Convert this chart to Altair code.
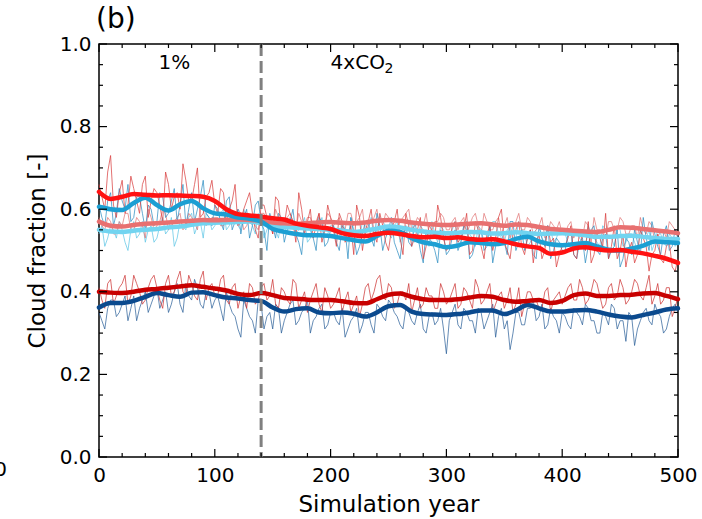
import altair as alt
import pandas as pd

# ---------------- data ----------------
years_annual = [v * 5 for v in range(101)]          # 0, 5, ..., 500
years_mid = [v * 5 + 2.5 for v in range(100)]       # 2.5, 7.5, ..., 497.5
years_smooth = list(range(0, 501, 10))

red_annual = [0.66, 0.60, 0.73, 0.58, 0.67, 0.61, 0.65, 0.59, 0.68, 0.62, 0.64, 0.57, 0.66, 0.63, 0.60, 0.67, 0.62, 0.70, 0.59, 0.64, 0.61,
              0.65, 0.57, 0.62, 0.56, 0.60, 0.64, 0.55, 0.61, 0.58, 0.54, 0.62, 0.56, 0.59, 0.52, 0.60, 0.57, 0.53, 0.59, 0.55, 0.58,
              0.51, 0.57, 0.53, 0.49, 0.58, 0.55, 0.60, 0.52, 0.56, 0.50, 0.57, 0.53, 0.59, 0.51, 0.55, 0.48, 0.56, 0.53, 0.58, 0.50,
              0.56, 0.52, 0.55, 0.49, 0.57, 0.51, 0.54, 0.50, 0.58, 0.52, 0.48, 0.55, 0.51, 0.53, 0.47, 0.54, 0.50, 0.52, 0.46, 0.51,
              0.53, 0.49, 0.55, 0.50, 0.47, 0.54, 0.51, 0.48, 0.56, 0.50, 0.46, 0.52, 0.49, 0.53, 0.45, 0.50, 0.48, 0.51, 0.46, 0.48]
red_mid = [0.63, 0.69, 0.61, 0.64, 0.59, 0.68, 0.62, 0.66, 0.58, 0.65, 0.61, 0.69, 0.60, 0.64, 0.71, 0.62, 0.66, 0.58, 0.63, 0.67,
           0.59, 0.64, 0.60, 0.66, 0.57, 0.62, 0.59, 0.53, 0.61, 0.58, 0.63, 0.55, 0.61, 0.57, 0.64, 0.54, 0.60, 0.56, 0.52, 0.61,
           0.55, 0.59, 0.52, 0.56, 0.61, 0.50, 0.57, 0.54, 0.59, 0.52, 0.55, 0.60, 0.49, 0.56, 0.53, 0.58, 0.51, 0.55, 0.61, 0.53,
           0.51, 0.57, 0.53, 0.59, 0.50, 0.55, 0.48, 0.56, 0.53, 0.60, 0.50, 0.54, 0.57, 0.49, 0.55, 0.52, 0.48, 0.56, 0.53, 0.49,
           0.51, 0.56, 0.48, 0.52, 0.57, 0.49, 0.53, 0.59, 0.51, 0.48, 0.54, 0.50, 0.47, 0.55, 0.51, 0.49, 0.54, 0.47, 0.52, 0.45]

blue_annual = [0.61, 0.56, 0.64, 0.59, 0.62, 0.66, 0.58, 0.63, 0.55, 0.60, 0.57, 0.63, 0.59, 0.65, 0.61, 0.56, 0.64, 0.60, 0.67, 0.58, 0.61,
               0.57, 0.62, 0.55, 0.60, 0.58, 0.53, 0.61, 0.57, 0.50, 0.56, 0.59, 0.52, 0.57, 0.54, 0.49, 0.56, 0.53, 0.58, 0.51, 0.55,
               0.52, 0.56, 0.48, 0.54, 0.51, 0.57, 0.53, 0.59, 0.50, 0.55, 0.52, 0.48, 0.56, 0.51, 0.54, 0.47, 0.53, 0.50, 0.55, 0.49,
               0.53, 0.50, 0.56, 0.48, 0.52, 0.55, 0.51, 0.47, 0.54, 0.52, 0.57, 0.50, 0.55, 0.53, 0.49, 0.56, 0.51, 0.48, 0.53, 0.50,
               0.54, 0.49, 0.52, 0.47, 0.55, 0.50, 0.53, 0.48, 0.51, 0.46, 0.53, 0.49, 0.52, 0.58, 0.50, 0.54, 0.49, 0.56, 0.51, 0.53]
blue_mid = [0.58, 0.62, 0.56, 0.65, 0.60, 0.57, 0.63, 0.59, 0.61, 0.56, 0.64, 0.58, 0.62, 0.57, 0.66, 0.60, 0.57, 0.63, 0.59, 0.56,
            0.60, 0.55, 0.63, 0.57, 0.54, 0.60, 0.56, 0.62, 0.55, 0.59, 0.53, 0.58, 0.55, 0.60, 0.52, 0.57, 0.55, 0.50, 0.57, 0.52,
            0.56, 0.50, 0.55, 0.58, 0.49, 0.54, 0.57, 0.51, 0.56, 0.53, 0.58, 0.50, 0.54, 0.52, 0.57, 0.50, 0.55, 0.52, 0.47, 0.54,
            0.50, 0.55, 0.52, 0.57, 0.49, 0.53, 0.50, 0.56, 0.51, 0.54, 0.49, 0.57, 0.52, 0.50, 0.55, 0.48, 0.53, 0.56, 0.50, 0.52,
            0.50, 0.55, 0.48, 0.53, 0.51, 0.56, 0.49, 0.54, 0.50, 0.55, 0.48, 0.52, 0.55, 0.49, 0.53, 0.57, 0.51, 0.54, 0.50, 0.55]

pink_annual = [0.58, 0.55, 0.57, 0.54, 0.56, 0.59, 0.55, 0.57, 0.53, 0.58, 0.56, 0.60, 0.55, 0.57, 0.59, 0.56, 0.58, 0.55, 0.60, 0.57, 0.58,
               0.56, 0.59, 0.57, 0.60, 0.55, 0.58, 0.56, 0.59, 0.57, 0.54, 0.58, 0.56, 0.59, 0.55, 0.57, 0.58, 0.55, 0.59, 0.56, 0.58,
               0.57, 0.55, 0.59, 0.56, 0.58, 0.54, 0.57, 0.60, 0.56, 0.58, 0.55, 0.57, 0.59, 0.55, 0.58, 0.56, 0.54, 0.57, 0.59, 0.55,
               0.57, 0.55, 0.58, 0.56, 0.59, 0.54, 0.57, 0.55, 0.58, 0.56, 0.53, 0.57, 0.55, 0.58, 0.54, 0.56, 0.53, 0.57, 0.55, 0.54,
               0.56, 0.53, 0.55, 0.57, 0.52, 0.55, 0.54, 0.57, 0.55, 0.58, 0.54, 0.56, 0.53, 0.55, 0.57, 0.52, 0.55, 0.53, 0.56, 0.54]
pink_mid = [0.56, 0.58, 0.54, 0.57, 0.59, 0.55, 0.58, 0.56, 0.60, 0.55, 0.57, 0.59, 0.56, 0.58, 0.55, 0.59, 0.57, 0.60, 0.56, 0.58,
            0.58, 0.56, 0.60, 0.57, 0.59, 0.56, 0.58, 0.55, 0.59, 0.57, 0.60, 0.56, 0.58, 0.57, 0.59, 0.56, 0.58, 0.57, 0.55, 0.59,
            0.56, 0.58, 0.55, 0.59, 0.57, 0.60, 0.56, 0.58, 0.55, 0.59, 0.57, 0.55, 0.58, 0.60, 0.56, 0.57, 0.59, 0.55, 0.57, 0.58,
            0.55, 0.58, 0.57, 0.54, 0.58, 0.56, 0.59, 0.55, 0.57, 0.54, 0.58, 0.56, 0.59, 0.55, 0.57, 0.55, 0.58, 0.54, 0.56, 0.57,
            0.54, 0.57, 0.55, 0.53, 0.56, 0.58, 0.55, 0.53, 0.57, 0.55, 0.57, 0.54, 0.56, 0.58, 0.54, 0.56, 0.53, 0.55, 0.57, 0.55]

cyan_annual = [0.54, 0.51, 0.56, 0.53, 0.55, 0.50, 0.57, 0.54, 0.52, 0.56, 0.53, 0.58, 0.55, 0.51, 0.57, 0.55, 0.59, 0.56, 0.53, 0.58, 0.56,
               0.59, 0.55, 0.58, 0.56, 0.60, 0.57, 0.54, 0.58, 0.55, 0.57, 0.53, 0.56, 0.58, 0.54, 0.56, 0.52, 0.57, 0.55, 0.53, 0.56,
               0.54, 0.57, 0.52, 0.55, 0.53, 0.56, 0.58, 0.55, 0.57, 0.54, 0.56, 0.52, 0.55, 0.57, 0.53, 0.55, 0.51, 0.54, 0.56, 0.53,
               0.55, 0.52, 0.56, 0.54, 0.51, 0.55, 0.53, 0.57, 0.54, 0.52, 0.56, 0.53, 0.55, 0.51, 0.54, 0.56, 0.52, 0.55, 0.53, 0.54,
               0.52, 0.55, 0.53, 0.50, 0.54, 0.52, 0.56, 0.53, 0.51, 0.55, 0.52, 0.54, 0.50, 0.53, 0.55, 0.52, 0.54, 0.51, 0.53, 0.52]
cyan_mid = [0.56, 0.53, 0.55, 0.57, 0.52, 0.55, 0.53, 0.57, 0.55, 0.52, 0.56, 0.54, 0.58, 0.53, 0.56, 0.58, 0.54, 0.57, 0.59, 0.55,
            0.57, 0.60, 0.56, 0.58, 0.55, 0.58, 0.56, 0.59, 0.53, 0.57, 0.55, 0.58, 0.54, 0.57, 0.55, 0.58, 0.53, 0.56, 0.58, 0.54,
            0.56, 0.53, 0.55, 0.58, 0.54, 0.57, 0.55, 0.53, 0.58, 0.56, 0.53, 0.57, 0.54, 0.56, 0.52, 0.56, 0.54, 0.57, 0.52, 0.55,
            0.53, 0.57, 0.52, 0.55, 0.53, 0.56, 0.52, 0.55, 0.57, 0.53, 0.55, 0.52, 0.57, 0.54, 0.52, 0.55, 0.53, 0.56, 0.52, 0.55,
            0.54, 0.51, 0.55, 0.52, 0.56, 0.53, 0.51, 0.55, 0.53, 0.56, 0.51, 0.54, 0.52, 0.55, 0.53, 0.50, 0.55, 0.52, 0.54, 0.51]

darkred_annual = [0.41, 0.36, 0.43, 0.39, 0.42, 0.37, 0.44, 0.40, 0.38, 0.43, 0.41, 0.36, 0.44, 0.40, 0.45, 0.39, 0.42, 0.38, 0.45, 0.41, 0.39,
                  0.43, 0.38, 0.41, 0.36, 0.40, 0.42, 0.37, 0.41, 0.38, 0.43, 0.36, 0.40, 0.37, 0.42, 0.38, 0.35, 0.40, 0.37, 0.41, 0.36,
                  0.39, 0.35, 0.40, 0.37, 0.34, 0.41, 0.38, 0.43, 0.39, 0.42, 0.36, 0.40, 0.38, 0.35, 0.41, 0.37, 0.39, 0.36, 0.42, 0.37,
                  0.40, 0.36, 0.41, 0.38, 0.43, 0.37, 0.40, 0.35, 0.39, 0.36, 0.41, 0.37, 0.34, 0.40, 0.38, 0.36, 0.40, 0.35, 0.39, 0.37,
                  0.41, 0.38, 0.43, 0.37, 0.40, 0.42, 0.36, 0.41, 0.38, 0.43, 0.37, 0.40, 0.42, 0.38, 0.44, 0.39, 0.37, 0.41, 0.34, 0.39]
darkred_mid = [0.38, 0.42, 0.37, 0.41, 0.44, 0.39, 0.42, 0.37, 0.41, 0.44, 0.38, 0.42, 0.39, 0.43, 0.40, 0.44, 0.39, 0.43, 0.38, 0.42,
               0.39, 0.44, 0.37, 0.42, 0.39, 0.36, 0.41, 0.38, 0.42, 0.39, 0.37, 0.41, 0.38, 0.43, 0.36, 0.40, 0.38, 0.42, 0.35, 0.39,
               0.37, 0.41, 0.38, 0.35, 0.39, 0.37, 0.42, 0.40, 0.44, 0.38, 0.41, 0.37, 0.40, 0.42, 0.38, 0.36, 0.41, 0.39, 0.36, 0.40,
               0.38, 0.42, 0.37, 0.40, 0.36, 0.41, 0.38, 0.42, 0.37, 0.40, 0.38, 0.35, 0.41, 0.37, 0.40, 0.38, 0.36, 0.41, 0.38, 0.40,
               0.39, 0.42, 0.38, 0.41, 0.38, 0.43, 0.39, 0.37, 0.42, 0.39, 0.41, 0.38, 0.43, 0.39, 0.41, 0.37, 0.42, 0.38, 0.41, 0.36]

darkblue_annual = [0.35, 0.31, 0.38, 0.34, 0.37, 0.33, 0.39, 0.36, 0.40, 0.37, 0.41, 0.38, 0.35, 0.40, 0.37, 0.42, 0.38, 0.41, 0.36, 0.40, 0.38,
                   0.36, 0.40, 0.35, 0.31, 0.38, 0.34, 0.30, 0.37, 0.34, 0.31, 0.36, 0.33, 0.37, 0.32, 0.35, 0.38, 0.33, 0.36, 0.31, 0.35,
                   0.33, 0.36, 0.31, 0.34, 0.30, 0.35, 0.32, 0.37, 0.34, 0.38, 0.35, 0.32, 0.36, 0.33, 0.35, 0.31, 0.34, 0.32, 0.36, 0.25,
                   0.35, 0.32, 0.36, 0.33, 0.30, 0.35, 0.33, 0.37, 0.34, 0.31, 0.26, 0.35, 0.32, 0.36, 0.38, 0.34, 0.31, 0.36, 0.33, 0.35,
                   0.32, 0.36, 0.34, 0.37, 0.33, 0.30, 0.35, 0.32, 0.36, 0.33, 0.28, 0.34, 0.31, 0.35, 0.33, 0.37, 0.34, 0.31, 0.36, 0.35]
darkblue_mid = [0.33, 0.36, 0.38, 0.35, 0.39, 0.36, 0.33, 0.38, 0.35, 0.39, 0.36, 0.40, 0.37, 0.42, 0.35, 0.39, 0.43, 0.37, 0.40, 0.36,
                0.39, 0.33, 0.37, 0.34, 0.29, 0.36, 0.33, 0.38, 0.31, 0.35, 0.37, 0.30, 0.35, 0.38, 0.33, 0.36, 0.30, 0.34, 0.37, 0.32,
                0.35, 0.32, 0.29, 0.33, 0.36, 0.32, 0.35, 0.30, 0.36, 0.33, 0.37, 0.34, 0.31, 0.35, 0.32, 0.37, 0.30, 0.35, 0.33, 0.31,
                0.33, 0.37, 0.31, 0.35, 0.33, 0.36, 0.31, 0.35, 0.29, 0.36, 0.33, 0.30, 0.35, 0.32, 0.36, 0.33, 0.37, 0.32, 0.34, 0.30,
                0.34, 0.31, 0.35, 0.32, 0.36, 0.33, 0.30, 0.34, 0.37, 0.31, 0.33, 0.35, 0.27, 0.33, 0.36, 0.32, 0.35, 0.30, 0.34, 0.37]

red_smooth = [0.642, 0.625, 0.630, 0.637, 0.635, 0.633, 0.634, 0.633, 0.632, 0.630, 0.620, 0.600, 0.588, 0.585, 0.582, 0.578, 0.575,
              0.565, 0.560, 0.556, 0.552, 0.542, 0.537, 0.535, 0.540, 0.543, 0.540, 0.535, 0.532, 0.533, 0.530, 0.532, 0.528, 0.526,
              0.527, 0.522, 0.515, 0.510, 0.506, 0.492, 0.495, 0.505, 0.508, 0.503, 0.500, 0.501, 0.497, 0.493, 0.487, 0.480, 0.470]
blue_smooth = [0.606, 0.600, 0.598, 0.615, 0.628, 0.610, 0.597, 0.612, 0.620, 0.602, 0.590, 0.587, 0.580, 0.577, 0.570, 0.552, 0.545,
               0.540, 0.537, 0.537, 0.535, 0.530, 0.525, 0.522, 0.535, 0.548, 0.545, 0.530, 0.520, 0.515, 0.508, 0.512, 0.520, 0.518,
               0.515, 0.518, 0.528, 0.533, 0.522, 0.515, 0.513, 0.515, 0.518, 0.510, 0.502, 0.500, 0.505, 0.512, 0.522, 0.520, 0.518]
pink_smooth = [0.570, 0.560, 0.558, 0.562, 0.565, 0.566, 0.568, 0.570, 0.572, 0.574, 0.573, 0.574, 0.575, 0.574, 0.572, 0.568, 0.566,
               0.565, 0.566, 0.568, 0.569, 0.567, 0.566, 0.568, 0.572, 0.574, 0.572, 0.568, 0.565, 0.563, 0.562, 0.563, 0.565, 0.566,
               0.563, 0.560, 0.563, 0.562, 0.557, 0.552, 0.550, 0.548, 0.546, 0.545, 0.550, 0.556, 0.555, 0.552, 0.549, 0.546, 0.542]
cyan_smooth = [0.550, 0.546, 0.545, 0.548, 0.550, 0.552, 0.556, 0.558, 0.562, 0.566, 0.567, 0.568, 0.569, 0.570, 0.566, 0.560, 0.557,
               0.555, 0.553, 0.552, 0.550, 0.548, 0.545, 0.548, 0.553, 0.558, 0.556, 0.550, 0.546, 0.543, 0.542, 0.543, 0.545, 0.544,
               0.541, 0.542, 0.544, 0.542, 0.540, 0.541, 0.542, 0.540, 0.537, 0.533, 0.533, 0.535, 0.536, 0.533, 0.530, 0.528, 0.528]
darkred_smooth = [0.400, 0.398, 0.397, 0.400, 0.405, 0.407, 0.410, 0.413, 0.416, 0.412, 0.408, 0.403, 0.395, 0.392, 0.397, 0.392, 0.385,
                  0.383, 0.381, 0.380, 0.380, 0.377, 0.373, 0.372, 0.382, 0.393, 0.396, 0.388, 0.382, 0.380, 0.380, 0.382, 0.386, 0.390,
                  0.388, 0.380, 0.376, 0.378, 0.380, 0.373, 0.378, 0.392, 0.396, 0.390, 0.390, 0.392, 0.393, 0.396, 0.397, 0.390, 0.382]
darkblue_smooth = [0.362, 0.373, 0.373, 0.378, 0.388, 0.397, 0.392, 0.388, 0.398, 0.399, 0.392, 0.386, 0.384, 0.380, 0.378, 0.362, 0.352,
                   0.358, 0.360, 0.350, 0.348, 0.350, 0.347, 0.340, 0.350, 0.365, 0.368, 0.352, 0.346, 0.345, 0.344, 0.346, 0.350, 0.355,
                   0.355, 0.346, 0.355, 0.368, 0.360, 0.352, 0.352, 0.355, 0.356, 0.352, 0.345, 0.340, 0.338, 0.344, 0.350, 0.357, 0.360]

series = [
    # name, annual, mid-year, smooth, thin colour, thick colour
    ("cyan", cyan_annual, cyan_mid, cyan_smooth, "#5cc4e4", "#72d4f0"),
    ("pink", pink_annual, pink_mid, pink_smooth, "#e07272", "#e87070"),
    ("blue", blue_annual, blue_mid, blue_smooth, "#2a8cc0", "#1c9fd3"),
    ("red", red_annual, red_mid, red_smooth, "#d83a3a", "#ff1212"),
    ("darkblue", darkblue_annual, darkblue_mid, darkblue_smooth, "#2a5f98", "#0b4a8e"),
    ("darkred", darkred_annual, darkred_mid, darkred_smooth, "#cc3030", "#c80000"),
]

x_major = [0, 100, 200, 300, 400, 500]
x_minor = [v for v in range(0, 501, 20) if v % 100 != 0]
y_major = [0.0, 0.2, 0.4, 0.6, 0.8, 1.0]
y_minor = [round(v * 0.05, 2) for v in range(21) if v % 4 != 0]

transition_year = [140]

# ---------------- chart ----------------
W, H = 579, 413
FONT = "DejaVu Sans"

xscale = alt.Scale(domain=[0, 500], nice=False, zero=False)
yscale = alt.Scale(domain=[0, 1], nice=False, zero=False)

xaxis = alt.Axis(values=x_major, ticks=False, domain=False, grid=False, labelFontSize=20, labelFlush=False,
                 labelPadding=8, title="Simulation year", titleFontSize=23, titleFontWeight="normal",
                 titlePadding=8, labelColor="black", titleColor="black", labelFont=FONT, titleFont=FONT)
yaxis = alt.Axis(values=y_major, format=".1f", ticks=False, domain=False, grid=False, labelFontSize=20, labelFlush=False,
                 labelPadding=8, title="Cloud fraction [-]", titleFontSize=23, titleFontWeight="normal",
                 titlePadding=10, labelColor="black", titleColor="black", labelFont=FONT, titleFont=FONT)

layers = []
base_x = alt.X("year:Q", scale=xscale, axis=xaxis)
base_y = alt.Y("value:Q", scale=yscale, axis=yaxis)

for name, ann, mid, sm, thin_c, thick_c in series:
    df = pd.concat([pd.DataFrame({"year": years_annual, "value": ann}),
                    pd.DataFrame({"year": years_mid, "value": mid})]).sort_values("year")
    layers.append(alt.Chart(df).mark_line(color=thin_c, strokeWidth=0.9, opacity=0.8).encode(
        x=base_x, y=base_y, order="year:Q"))

for name, ann, mid, sm, thin_c, thick_c in series:
    df = pd.DataFrame({"year": years_smooth, "value": sm})
    layers.append(alt.Chart(df).mark_line(color=thick_c, strokeWidth=4.5, strokeCap="round",
                                          strokeJoin="round", interpolate="monotone").encode(x=base_x, y=base_y))

# dashed transition line
df_tr = pd.DataFrame({"year": transition_year})
layers.append(alt.Chart(df_tr).mark_rule(color="#808080", strokeWidth=3, strokeDash=[12, 5]).encode(
    x=alt.X("year:Q", scale=xscale), y=alt.value(0), y2=alt.value(H)))

# annotations
d1 = pd.DataFrame({"t": ["1%"], "year": [65], "value": [0.955]})
layers.append(alt.Chart(d1).mark_text(font=FONT, fontSize=20, align="center", baseline="middle", color="black").encode(
    x=alt.X("year:Q", scale=xscale), y=alt.Y("value:Q", scale=yscale), text="t:N"))
d2 = pd.DataFrame({"t": ["4xCO"], "year": [200], "value": [0.955]})
layers.append(alt.Chart(d2).mark_text(font=FONT, fontSize=20, align="left", baseline="middle", color="black").encode(
    x=alt.X("year:Q", scale=xscale), y=alt.Y("value:Q", scale=yscale), text="t:N"))
d3 = pd.DataFrame({"t": ["2"], "year": [200], "value": [0.955]})
layers.append(alt.Chart(d3).mark_text(font=FONT, fontSize=14, align="left", baseline="middle", color="black",
                                      dx=54, dy=6).encode(
    x=alt.X("year:Q", scale=xscale), y=alt.Y("value:Q", scale=yscale), text="t:N"))

# inward ticks
def xticks(vals, length):
    d = pd.DataFrame({"v": vals})
    bottom = alt.Chart(d).mark_rule(color="black", strokeWidth=1.2).encode(
        x=alt.X("v:Q", scale=xscale), y=alt.value(H), y2=alt.value(H - length))
    top = alt.Chart(d).mark_rule(color="black", strokeWidth=1.2).encode(
        x=alt.X("v:Q", scale=xscale), y=alt.value(0), y2=alt.value(length))
    return [bottom, top]

def yticks(vals, length):
    d = pd.DataFrame({"v": vals})
    left = alt.Chart(d).mark_rule(color="black", strokeWidth=1.2).encode(
        y=alt.Y("v:Q", scale=yscale), x=alt.value(0), x2=alt.value(length))
    right = alt.Chart(d).mark_rule(color="black", strokeWidth=1.2).encode(
        y=alt.Y("v:Q", scale=yscale), x=alt.value(W), x2=alt.value(W - length))
    return [left, right]

layers += xticks(x_major, 8) + xticks(x_minor, 4) + yticks(y_major, 8) + yticks(y_minor, 4)

# panel label and stray neighbour label
df_lbl = pd.DataFrame({"t": ["(b)"]})
layers.append(alt.Chart(df_lbl).mark_text(font=FONT, fontSize=28, align="left", baseline="middle", color="black").encode(
    x=alt.value(-3), y=alt.value(-24), text="t:N"))
df_z = pd.DataFrame({"t": ["0"]})
layers.append(alt.Chart(df_z).mark_text(font=FONT, fontSize=20, align="right", baseline="middle", color="black").encode(
    x=alt.value(-92), y=alt.value(426), text="t:N"))

chart = alt.layer(*layers).properties(
    width=W, height=H,
    autosize=alt.AutoSizeParams(type="none"),
    padding={"left": 99, "top": 44, "right": 24, "bottom": 62},
    background="white",
).configure_view(stroke="black", strokeWidth=1.5).configure_text(font=FONT)

chart.save("out.html", embed_options={"renderer": "svg", "actions": False})
